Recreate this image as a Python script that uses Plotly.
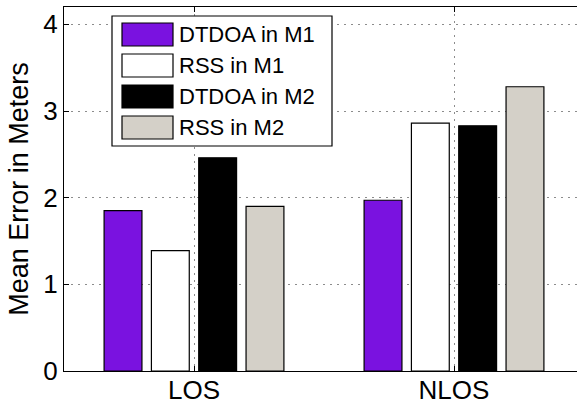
import plotly.graph_objects as go

# Mean positioning error per scenario and method
categories = ["LOS", "NLOS"]
cat_pos = [1, 2]
series_names = ["DTDOA in M1", "RSS in M1", "DTDOA in M2", "RSS in M2"]
dtdoa_m1 = [1.85, 1.97]
rss_m1 = [1.39, 2.86]
dtdoa_m2 = [2.46, 2.83]
rss_m2 = [1.90, 3.28]
series_colors = ["#7A12E0", "#FFFFFF", "#000000", "#D4D0C8"]
y_ticks = [0, 1, 2, 3, 4]

W, H = 577, 408
L, T, B = 64, 7, 371            # plot area edges in pixels (right edge = figure edge)
PW, PH = W - L, B - T

fig = go.Figure()
for name, vals, col in zip(series_names, [dtdoa_m1, rss_m1, dtdoa_m2, rss_m2], series_colors):
    fig.add_trace(go.Bar(
        x=cat_pos, y=vals, name=name, showlegend=False,
        marker=dict(color=col, line=dict(color="#000000", width=1.2)),
    ))


def px(x):
    return (x - L) / PW


def py(y):
    return (B - y) / PH


# Boxed legend with large swatches
shapes = [dict(type="rect", xref="paper", yref="paper",
               x0=px(112), x1=px(332), y0=py(146), y1=py(16),
               line=dict(color="#000000", width=1.2), fillcolor="#FFFFFF", layer="above")]
annotations = []
for i, (name, col) in enumerate(zip(series_names, series_colors)):
    cy = 34.5 + 31 * i
    shapes.append(dict(type="rect", xref="paper", yref="paper",
                       x0=px(122), x1=px(173), y0=py(cy + 11.5), y1=py(cy - 11.5),
                       line=dict(color="#000000", width=1.2), fillcolor=col, layer="above"))
    annotations.append(dict(xref="paper", yref="paper", x=px(177), y=py(cy),
                            xanchor="left", yanchor="middle", showarrow=False,
                            text=name, font=dict(size=22, color="#000000")))

fig.update_layout(
    width=W, height=H,
    margin=dict(l=L, r=0, t=T, b=H - B, pad=0),
    paper_bgcolor="#FFFFFF", plot_bgcolor="#FFFFFF",
    font=dict(family="Liberation Sans, Arial, Helvetica, sans-serif", color="#000000"),
    barmode="group", bargap=0.272, bargroupgap=0.2,
    shapes=shapes, annotations=annotations,
    xaxis=dict(
        range=[0.5, 0.5 + PW / 260.0],
        tickvals=cat_pos, ticktext=categories,
        tickfont=dict(size=26), ticklabelstandoff=-4,
        showline=True, linecolor="#000000", linewidth=1.2, mirror="ticks",
        ticks="inside", ticklen=5, tickcolor="#000000",
        showgrid=True, gridcolor="#8C8C8C", griddash="2px,5px", gridwidth=1,
        zeroline=False, fixedrange=True,
    ),
    yaxis=dict(
        range=[0, 4.2],
        tickvals=y_ticks,
        tickfont=dict(size=26),
        title=dict(text="Mean Error in Meters", font=dict(size=27), standoff=6),
        showline=True, linecolor="#000000", linewidth=1.2, mirror=False,
        ticks="inside", ticklen=5, tickcolor="#000000",
        showgrid=True, gridcolor="#8C8C8C", griddash="2px,5px", gridwidth=1,
        zeroline=False, fixedrange=True,
    ),
)

fig.write_html("out.html")
